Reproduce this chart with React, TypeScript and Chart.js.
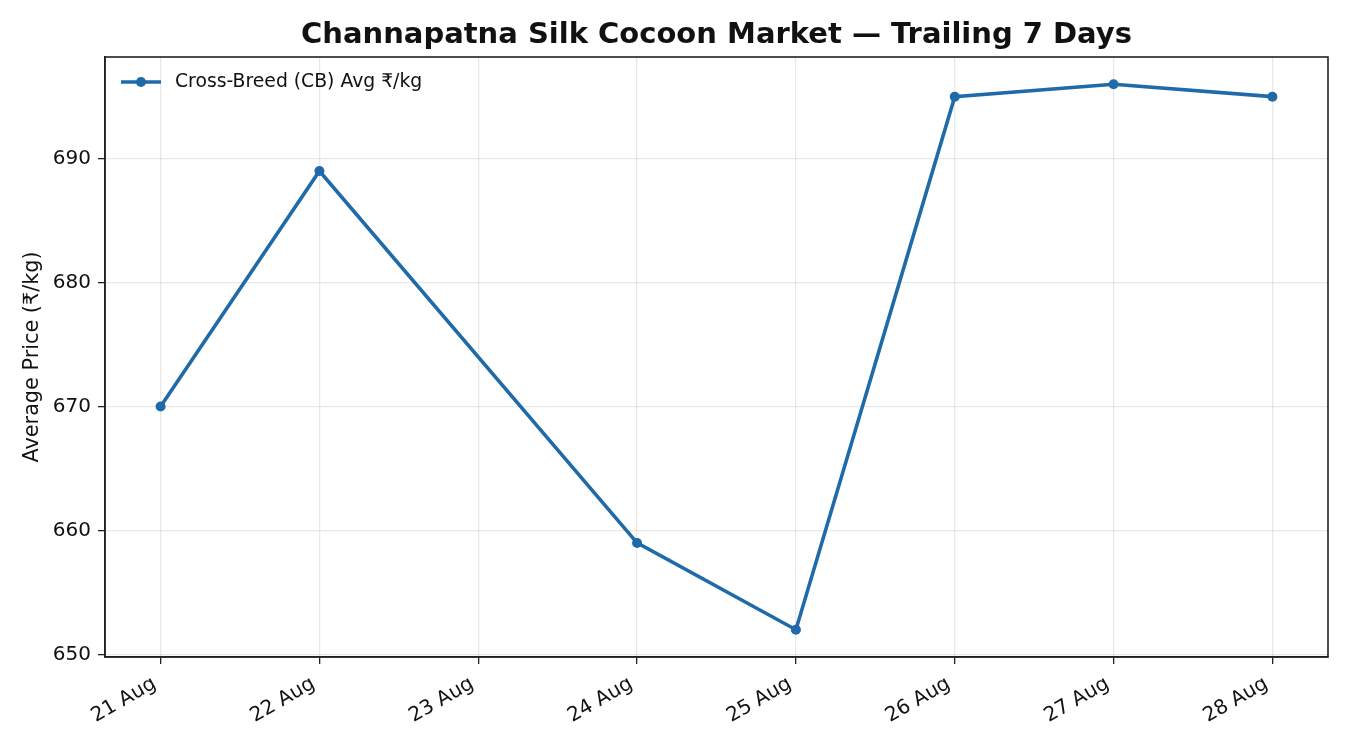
import React, { useEffect, useRef } from "react";
import { Chart, registerables } from "chart.js";

Chart.register(...registerables);

const categories = ["21 Aug", "22 Aug", "23 Aug", "24 Aug", "25 Aug", "26 Aug", "27 Aug", "28 Aug"];
const prices: (number | null)[] = [670, 689, null, 659, 652, 695, 696, 695];
const yTicks = [650, 660, 670, 680, 690];
const seriesLabel = "Cross-Breed (CB) Avg ₹/kg";
const titleText = "Channapatna Silk Cocoon Market — Trailing 7 Days";
const yTitle = "Average Price (₹/kg)";

const LINE = "#1f6aa8";
const FONT = "'DejaVu Sans', sans-serif";

export default function App() {
  const ref = useRef<HTMLCanvasElement>(null);
  useEffect(() => {
    document.body.style.margin = "0";
    const points = prices
      .map((v, i) => (v === null ? null : { x: i, y: v }))
      .filter((p) => p !== null) as { x: number; y: number }[];

    const framePlugin = {
      id: "frame",
      afterDraw(chart: any) {
        const { ctx, chartArea } = chart;
        ctx.save();
        ctx.strokeStyle = "#222";
        ctx.lineWidth = 1.6;
        ctx.strokeRect(chartArea.left, chartArea.top, chartArea.right - chartArea.left, chartArea.bottom - chartArea.top);
        // title
        ctx.fillStyle = "#111";
        ctx.font = `bold 29px ${FONT}`;
        ctx.textAlign = "center";
        ctx.textBaseline = "middle";
        ctx.fillText(titleText, (chartArea.left + chartArea.right) / 2, 35);
        // legend
        const ly = chartArea.top + 25;
        const lx = chartArea.left + 16;
        ctx.strokeStyle = LINE;
        ctx.lineWidth = 3.6;
        ctx.beginPath();
        ctx.moveTo(lx, ly);
        ctx.lineTo(lx + 40, ly);
        ctx.stroke();
        ctx.fillStyle = LINE;
        ctx.beginPath();
        ctx.arc(lx + 20, ly, 5, 0, Math.PI * 2);
        ctx.fill();
        ctx.fillStyle = "#111";
        ctx.font = `18.8px ${FONT}`;
        ctx.textBaseline = "middle";
        ctx.textAlign = "left";
        ctx.fillText(seriesLabel, lx + 54, ly);
        ctx.restore();
      },
    };

    const chart = new Chart(ref.current!, {
      type: "line",
      data: {
        datasets: [
          {
            label: seriesLabel,
            data: points,
            borderColor: LINE,
            backgroundColor: LINE,
            borderWidth: 3.6,
            pointRadius: 5,
            pointHoverRadius: 5,
            pointBackgroundColor: LINE,
            pointBorderWidth: 0,
            tension: 0,
          },
        ],
      },
      options: {
        animation: false,
        responsive: true,
        maintainAspectRatio: false,
        layout: { padding: { left: 0, right: 22, top: 57, bottom: 0 } },
        plugins: {
          legend: { display: false },
          tooltip: { enabled: false },
          title: { display: false },
        },
        scales: {
          x: {
            type: "linear",
            min: -0.35,
            max: 7.35,
            afterBuildTicks(scale: any) {
              scale.ticks = categories.map((_, i) => ({ value: i }));
            },
            afterFit(scale: any) {
              scale.height = 93;
            },
            ticks: {
              callback: (v: any) => categories[Math.round(Number(v))] ?? "",
              minRotation: 30,
              maxRotation: 30,
              autoSkip: false,
              color: "#111",
              font: { family: FONT, size: 20 },
              padding: 8,
              labelOffset: -6,
            },
            grid: {
              color: "rgba(0,0,0,0.09)",
              tickColor: "#222",
              tickLength: 7,
              lineWidth: 1.3,
            },
            border: { color: "#222", width: 1.6 },
          },
          y: {
            min: 649.8,
            max: 698.2,
            afterBuildTicks(scale: any) {
              scale.ticks = yTicks.map((v) => ({ value: v }));
            },
            afterFit(scale: any) {
              scale.width = 105;
            },
            ticks: {
              color: "#111",
              font: { family: FONT, size: 20 },
              padding: 7,
            },
            grid: {
              color: "rgba(0,0,0,0.09)",
              tickColor: "#222",
              tickLength: 7,
              lineWidth: 1.3,
            },
            border: { color: "#222", width: 1.6 },
            title: {
              display: true,
              text: yTitle,
              color: "#111",
              font: { family: FONT, size: 20.8 },
              padding: { top: 20, bottom: 0 },
            },
          },
        },
      },
      plugins: [framePlugin],
    });
    return () => chart.destroy();
  }, []);

  return (
    <div style={{ position: "fixed", left: 0, top: 0, width: 1350, height: 750, background: "#fff" }}>
      <canvas ref={ref} />
    </div>
  );
}
